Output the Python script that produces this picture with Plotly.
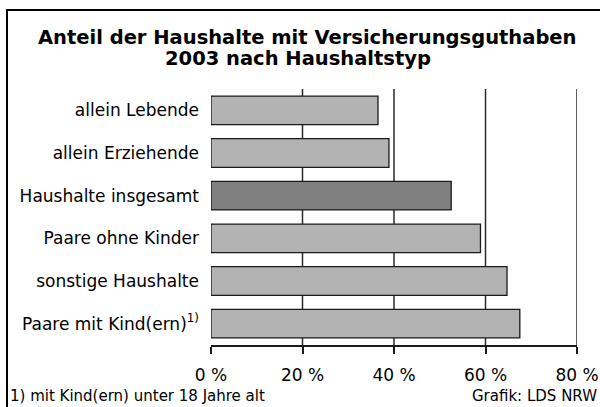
import plotly.graph_objects as go

categories = ["allein Lebende", "allein Erziehende", "Haushalte insgesamt",
              "Paare ohne Kinder", "sonstige Haushalte", "Paare mit Kind(ern)<sup>1)</sup>"]
values = [36.5, 38.9, 52.5, 58.9, 64.7, 67.5]
bar_colors = ["#b3b3b3", "#b3b3b3", "#808080", "#b3b3b3", "#b3b3b3", "#b3b3b3"]
tick_vals = [0, 20, 40, 60, 80]
tick_text = ["0 %", "20 %", "40 %", "60 %", "80 %"]
title_lines = ["Anteil der Haushalte mit Versicherungsguthaben", "2003 nach Haushaltstyp"]

W, H = 600, 407
ml, mr, mt, mb = 211, 23, 89, 62
FONT = "DejaVu Sans"

fig = go.Figure(go.Bar(
    x=values, y=categories, orientation="h",
    marker=dict(color=bar_colors, line=dict(color="#1a1a1a", width=1.3)),
    width=0.67,
))

pw = W - ml - mr
ph = H - mt - mb
def px(x):
    return (x - ml) / pw
def py(y):
    return (H - mb - y) / ph

grid_shapes = [
    dict(type="line", xref="x", yref="paper", x0=v, x1=v, y0=0, y1=1,
         layer="below", line=dict(color="#2a2a2a", width=1.5))
    for v in tick_vals[1:]
]

fig.update_layout(
    width=W, height=H,
    margin=dict(l=ml, r=mr, t=mt, b=mb, autoexpand=False),
    paper_bgcolor="white", plot_bgcolor="white",
    font=dict(family=FONT, color="black", size=15),
    showlegend=False,
    xaxis=dict(
        range=[0, 80], tickvals=tick_vals, ticktext=tick_text,
        showgrid=False, zeroline=False,
        showline=True, linecolor="#1a1a1a", linewidth=1.5,
        ticks="outside", ticklen=7, tickcolor="#1a1a1a", tickwidth=1.5,
        ticklabelstandoff=7,
        tickfont=dict(size=17), fixedrange=True, automargin=False,
    ),
    yaxis=dict(
        autorange="reversed", showgrid=False, zeroline=False, showline=False,
        ticks="", ticklabelstandoff=11,
        tickfont=dict(size=17), fixedrange=True, automargin=False,
    ),
    bargap=0.33,
    shapes=grid_shapes + [
        dict(type="line", xref="paper", yref="paper",
             x0=px(6), x1=px(600), y0=py(10), y1=py(10),
             line=dict(color="black", width=2)),
        dict(type="line", xref="paper", yref="paper",
             x0=px(7), x1=px(7), y0=py(9), y1=py(407),
             line=dict(color="black", width=2)),
    ],
    annotations=[
        dict(text="<b>" + title_lines[0] + "</b>", xref="paper", yref="paper",
             x=px(307), y=py(46), xanchor="center", yanchor="bottom", yshift=-5,
             showarrow=False, font=dict(size=19.5)),
        dict(text="<b>" + title_lines[1] + "</b>", xref="paper", yref="paper",
             x=px(298), y=py(67), xanchor="center", yanchor="bottom", yshift=-5,
             showarrow=False, font=dict(size=19.5)),
        dict(text="1) mit Kind(ern) unter 18 Jahre alt", xref="paper", yref="paper",
             x=px(8), y=py(396), xanchor="left", yanchor="middle",
             showarrow=False, font=dict(size=15)),
        dict(text="Grafik: LDS NRW", xref="paper", yref="paper",
             x=px(599), y=py(396), xanchor="right", yanchor="middle",
             showarrow=False, font=dict(size=15)),
    ],
)

fig.write_html("out.html", config={"displayModeBar": False},
               post_script="document.body.style.margin='0';document.body.style.overflow='hidden';")
